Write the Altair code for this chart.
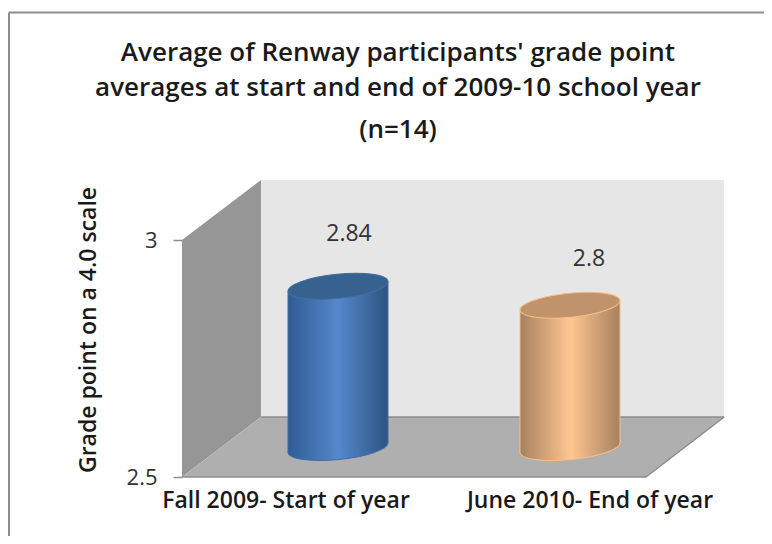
import altair as alt
import pandas as pd

# chart content
TITLE = ["Average of Renway participants' grade point",
         "averages at start and end of 2009-10 school year",
         "(n=14)"]
Y_TITLE = "Grade point on a 4.0 scale"
categories = ["Fall 2009- Start of year", "June 2010- End of year"]
values = [2.84, 2.8]
value_labels = ["2.84", "2.8"]
y_ticks = [2.5, 3]

# geometry, in data units of the two linear scales
px_x = 231.0      # pixels per x unit
px_y = 474.0      # pixels per y unit
DEPTH_X = 79 / px_x
DEPTH_Y = 60 / px_y
BASE = 2.5
TOP = 3.0
cyl_left = [(288 - 182) / px_x, (520 - 182) / px_x]
cyl_width = 100 / px_x
cyl_base = BASE + 29.5 / px_y
tilt = 5 / px_y
lab_x = [(286 - 182) / px_x, (590 - 182) / px_x]
lab_y = BASE - 23.5 / px_y
val_x = [(349 - 182) / px_x, (589 - 182) / px_x]
val_y = [3.012, 2.96]

FONT = "Open Sans"
X = alt.X("x:Q", scale=alt.Scale(domain=[0, 2], nice=False, zero=False), axis=None)
Y = alt.Y("y:Q", scale=alt.Scale(domain=[BASE, TOP], nice=False, zero=False),
          axis=alt.Axis(values=y_ticks, title=None, grid=False, domain=False,
                        tickColor="#8c8c8c", tickSize=9, tickWidth=1.5, labelFontSize=22,
                        labelFont=FONT, labelColor="#333333", labelPadding=16,
                        labelExpr="format(datum.value, '.1f') == '3.0' ? '3' : '2.5'"))
Y2 = alt.Y2("y2:Q")

# walls
left_wall = pd.DataFrame({"x": [0, DEPTH_X], "y": [TOP, TOP + DEPTH_Y], "y2": [BASE, BASE + DEPTH_Y]})
back_wall = pd.DataFrame({"x": [DEPTH_X, 2 + DEPTH_X + 0.005], "y": [TOP + DEPTH_Y] * 2, "y2": [BASE + DEPTH_Y] * 2})
floor = pd.DataFrame({"y": [BASE, BASE + DEPTH_Y], "x": [0, DEPTH_X], "x2": [2 + 2 / px_x, 2 + DEPTH_X + 0.005]})
back_edge = pd.DataFrame({"x": [DEPTH_X, 2 + DEPTH_X + 0.005], "y": [BASE + DEPTH_Y] * 2})
front_edge = pd.DataFrame({"x": [0, 2 + 2 / px_x], "y": [BASE, BASE]})
right_edge = pd.DataFrame({"x": [2 + 2 / px_x, 2 + DEPTH_X + 0.005], "y": [BASE, BASE + DEPTH_Y]})

layers = [
    alt.Chart(left_wall).mark_area(color="#969696").encode(x=X, y=Y, y2=Y2),
    alt.Chart(back_wall).mark_area(color="#E6E6E6").encode(x=X, y=Y, y2=Y2),
    alt.Chart(floor).mark_area(color="#AFAFAF", orient="horizontal").encode(
        y=Y, x=X, x2=alt.X2("x2:Q")),
]
for edge in (back_edge, front_edge, right_edge):
    layers.append(alt.Chart(edge).mark_line(color="#8c8c8c", strokeWidth=1.5).encode(x=X, y=Y))

# cylinders
ELLIPSE = "M-1,0 A1,0.24 0 1 1 1,0 A1,0.24 0 1 1 -1,0 Z"
ANGLE = 354.3
SIZE = (cyl_width * px_x * 1.005) ** 2


def body_fill(edge_l, mid, edge_r):
    return alt.Gradient(
        gradient="linear", x1=0, x2=1, y1=0, y2=0,
        stops=[alt.GradientStop(color=edge_l, offset=0),
               alt.GradientStop(color=mid, offset=0.5),
               alt.GradientStop(color=edge_r, offset=1)])


styles = [
    dict(edge_l="#2F5C92", mid="#5588CC", edge_r="#2C547F", top="#37618F", stroke="#3F6EA5"),
    dict(edge_l="#A5815F", mid="#FFC692", edge_r="#A5815F", top="#C0936B", stroke="#F9BD88"),
]
for i, st in enumerate(styles):
    fill = body_fill(st["edge_l"], st["mid"], st["edge_r"])
    center = cyl_left[i] + cyl_width / 2
    top_y = values[i] + 29.5 / px_y
    bottom = pd.DataFrame({"x": [center], "y": [cyl_base]})
    body = pd.DataFrame({"x": [cyl_left[i], cyl_left[i] + cyl_width],
                         "y": [top_y - tilt, top_y + tilt],
                         "y2": [cyl_base - tilt, cyl_base + tilt]})
    side_l = pd.DataFrame({"x": [cyl_left[i]] * 2, "y": [top_y - tilt, cyl_base - tilt]})
    side_r = pd.DataFrame({"x": [cyl_left[i] + cyl_width] * 2, "y": [top_y + tilt, cyl_base + tilt]})
    top = pd.DataFrame({"x": [center], "y": [top_y]})
    layers += [
        alt.Chart(bottom).mark_point(shape=ELLIPSE, angle=ANGLE, size=SIZE, filled=True, fill=fill,
                                     stroke=st["stroke"], strokeWidth=1, opacity=1).encode(x=X, y=Y),
        alt.Chart(body).mark_area(fill=fill).encode(x=X, y=Y, y2=Y2),
        alt.Chart(side_l).mark_line(color=st["stroke"], strokeWidth=1).encode(x=X, y=Y),
        alt.Chart(side_r).mark_line(color=st["stroke"], strokeWidth=1).encode(x=X, y=Y),
        alt.Chart(top).mark_point(shape=ELLIPSE, angle=ANGLE, size=SIZE, filled=True, fill=st["top"],
                                  stroke=st["stroke"], strokeWidth=1, opacity=1).encode(x=X, y=Y),
    ]

# texts
val_df = pd.DataFrame({"x": val_x, "y": val_y, "t": value_labels})
layers.append(alt.Chart(val_df).mark_text(font=FONT, fontSize=23, color="#333333").encode(
    x=X, y=Y, text="t:N"))
lab_df = pd.DataFrame({"x": lab_x, "y": [lab_y] * 2, "t": categories})
layers.append(alt.Chart(lab_df).mark_text(font=FONT, fontSize=23, fontWeight=600, color="#1a1a1a").encode(
    x=X, y=Y, text="t:N"))
ytitle_df = pd.DataFrame({"x": [-93 / px_x], "y": [BASE + 147 / px_y], "t": [Y_TITLE]})
layers.append(alt.Chart(ytitle_df).mark_text(font=FONT, fontSize=23, fontWeight=600, angle=270, color="#1a1a1a").encode(
    x=X, y=Y, text="t:N"))
title_df = pd.DataFrame({"x": [(398 - 182) / px_x] * 3,
                         "y": [BASE + (477 - yy) / px_y for yy in (53, 88, 130)],
                         "t": TITLE})
layers.append(alt.Chart(title_df).mark_text(font=FONT, fontSize=26, fontWeight=600, color="#1a1a1a").encode(
    x=X, y=Y, text="t:N"))
# chart frame: top and left rules
frame_top = pd.DataFrame({"x": [-173 / px_x, 590 / px_x], "y": [BASE + 464.5 / px_y] * 2})
frame_left = pd.DataFrame({"x": [-173 / px_x] * 2, "y": [BASE + 464.5 / px_y, BASE - 67 / px_y]})
for fr in (frame_top, frame_left):
    layers.append(alt.Chart(fr).mark_line(color="#8c8c8c", strokeWidth=2, clip=False).encode(x=X, y=Y))

chart = alt.layer(*layers).properties(
    width=462, height=237,
    autosize=alt.AutoSizeParams(type="none"),
    padding={"left": 174, "top": 232, "right": 120, "bottom": 59},
    background="white",
).configure_view(stroke=None)

chart.save("out.html", embed_options={"renderer": "svg", "actions": False})
